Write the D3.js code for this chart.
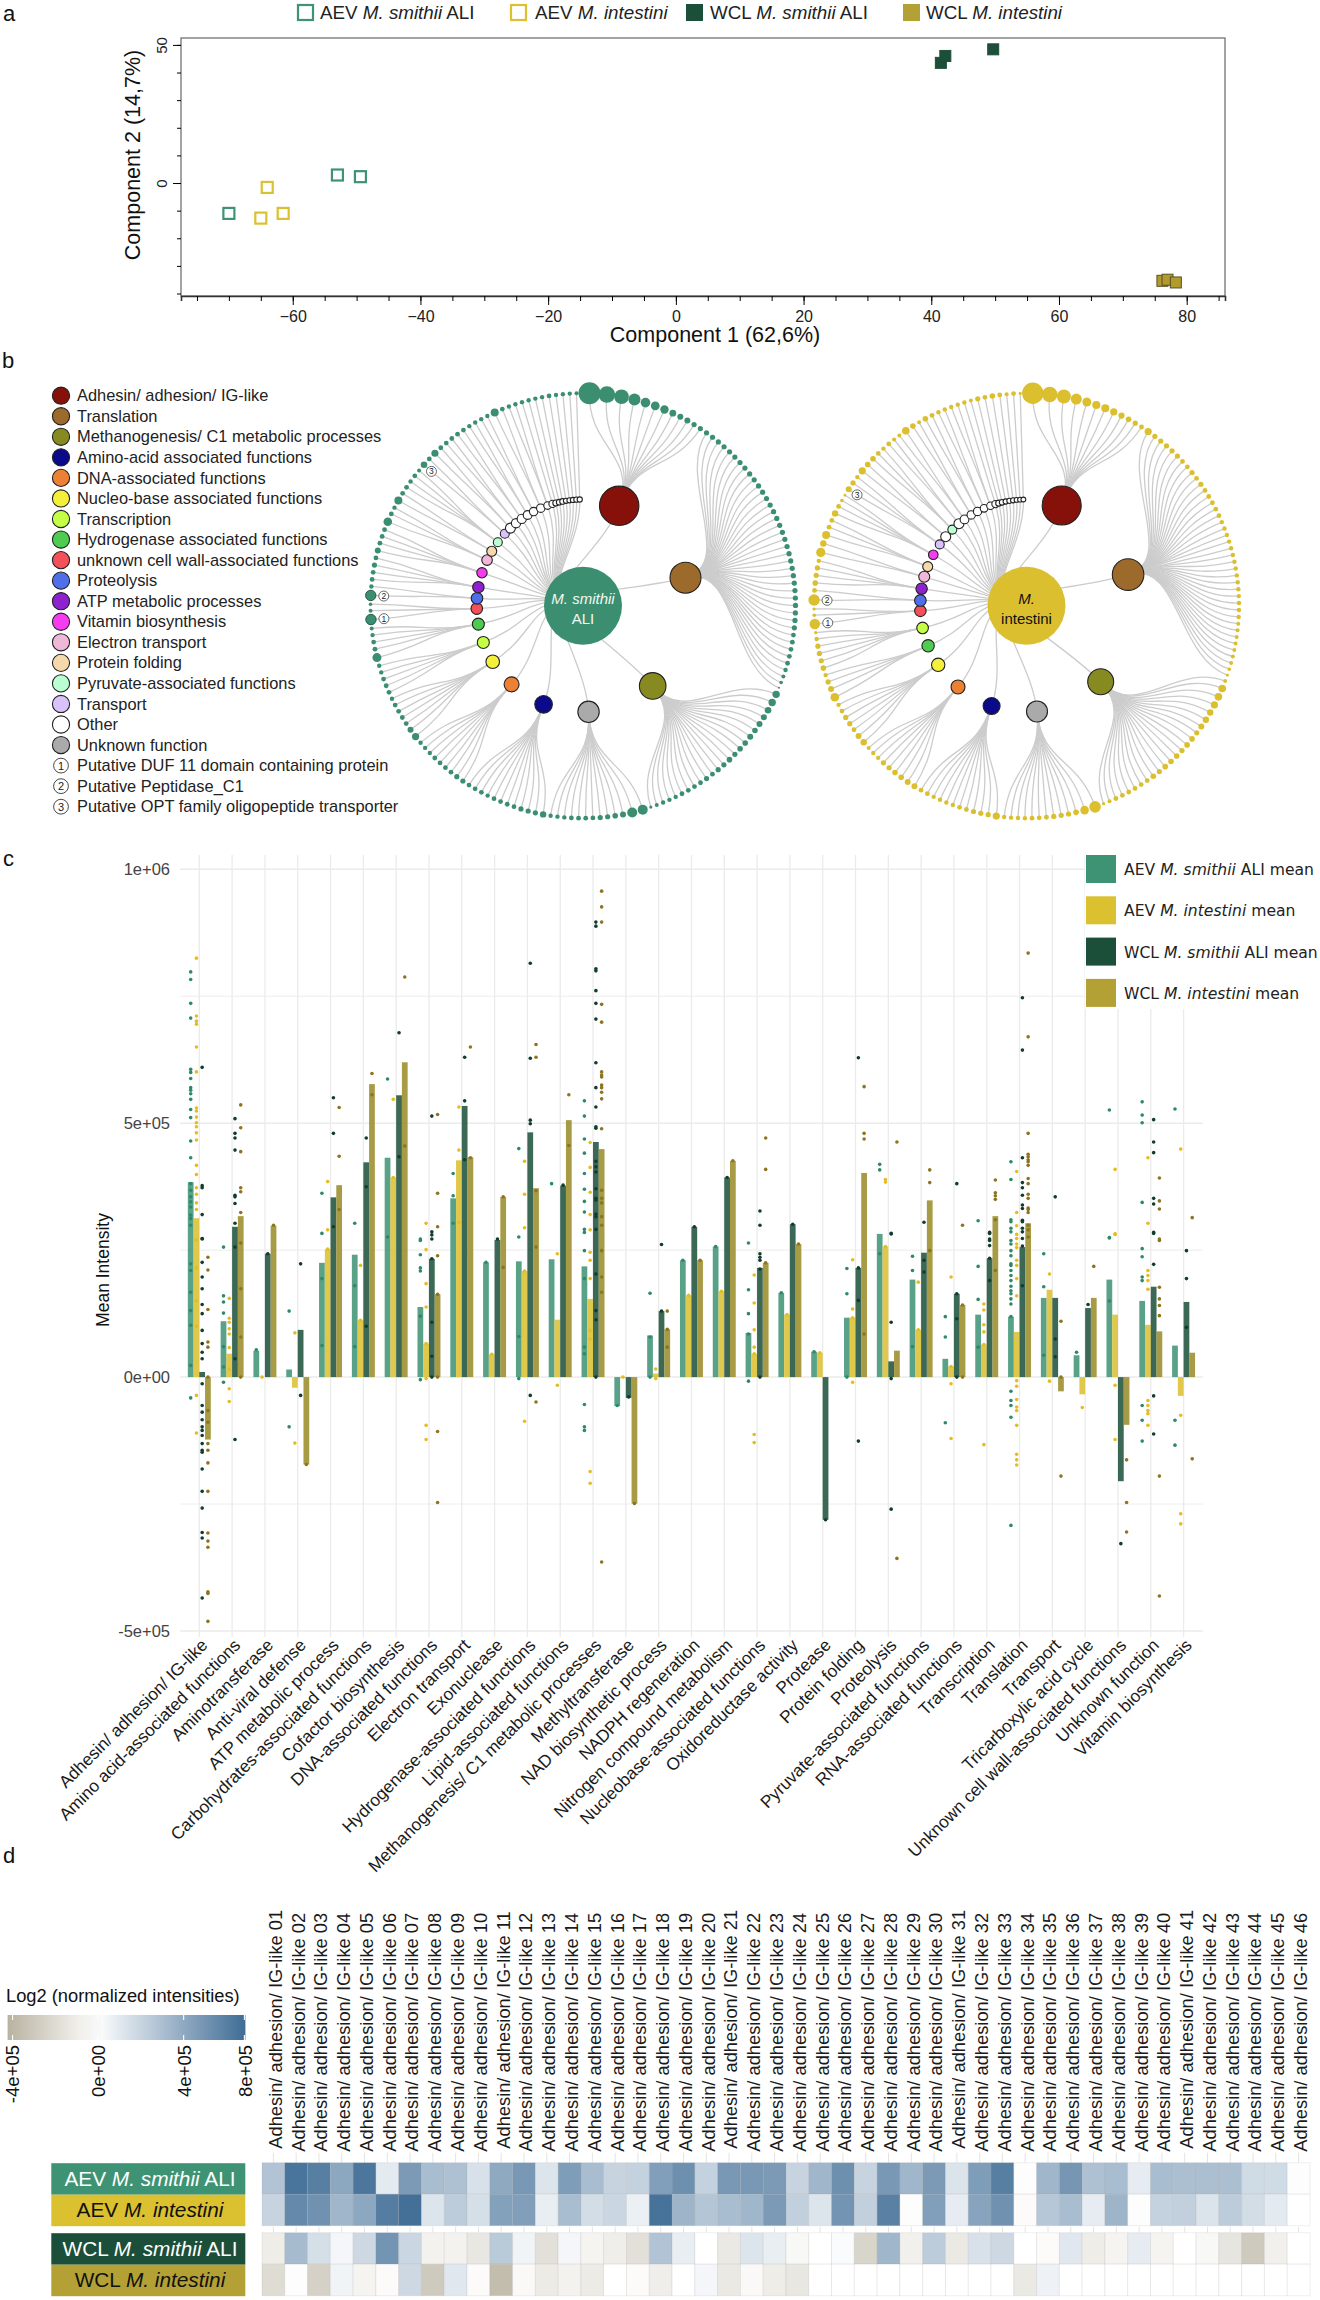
<!DOCTYPE html>
<html>
<head>
<meta charset="utf-8">
<script src="https://cdnjs.cloudflare.com/ajax/libs/d3/7.8.5/d3.min.js"></script>
<style>
body { margin: 0; background: #fff; }
text { font-family: "Liberation Sans", Arial, sans-serif; }
</style>
</head>
<body>
<div id="chart"></div>
<script>
// ---- panel a: PCA scores
var pcaGroups = ["AEV|M. smithii| ALI", "AEV|M. intestini|", "WCL|M. smithii| ALI", "WCL|M. intestini|"];
var pcaAevSmithii = [[-70, -11], [-53, 2.9], [-49.4, 2.3]];
var pcaAevIntestini = [[-64, -1.6], [-65, -12.7], [-61.5, -11]];
var pcaWclSmithii = [[41.5, 43.5], [42.2, 46], [49.7, 48.4]];
var pcaWclIntestini = [[76.2, -35.4], [77, -35], [78.3, -36]];
var pcaXLabels = [-60, -40, -20, 0, 20, 40, 60, 80];
var pcaYLabels = [50, 0];

// ---- panel b: functional trees
var funcNames = ["Adhesin/ adhesion/ IG-like", "Translation", "Methanogenesis/ C1 metabolic processes",
	"Amino-acid associated functions", "DNA-associated functions", "Nucleo-base associated functions",
	"Transcription", "Hydrogenase associated functions", "unknown cell wall-associated functions",
	"Proteolysis", "ATP metabolic processes", "Vitamin biosynthesis", "Electron transport", "Protein folding",
	"Pyruvate-associated functions", "Transport", "Other", "Unknown function"];
var funcColors = ["#86100a", "#9c6a2a", "#868a20", "#0b0a8a", "#ec8035", "#f3ef3a", "#c5ff45", "#4fcb52", "#f4505a",
	"#4f6ee8", "#8f22cf", "#f53cf0", "#f0b8d8", "#f5d9ac", "#baffd2", "#d9c2fb", "#ffffff", "#aaaaaa"];
var putativeNames = ["Putative DUF 11 domain containing protein", "Putative Peptidase_C1", "Putative OPT family oligopeptide transporter"];
var markFuncs = [8, 9, 15];

var smithiiOrder = [0, 1, 2, 17, 3, 4, 5, 6, 7, 8, 9, 10, 11, 12, 13, 14, 15];
var smithiiNodeR = [19.7, 15.5, 13.3, 10.7, 8.8, 7.5, 6.8, 6, 6, 5.8, 5.8, 5.7, 5.2, 5.3, 5, 4.5, 4.5];
var smithiiLeaves = [
	[11, 8.3, 7.3, 6, 4.8, 4.4, 4.2, 3.4, 3, 3, 2.6, 2.6],
	[2.6, 2.6, 2.6, 2.6, 2.6, 2.6, 2.6, 2.6, 2.6, 2.6, 2.6, 2.6, 2.6, 2.6, 2.6, 2.6, 2.6, 2.6, 2.6, 2.6, 2.6, 2.6, 2.6, 2.6, 2.6, 2.6, 2.6, 2.6, 2.6, 2.6, 2.6, 2.4, 2.4, 2.4, 2.4, 2.4, 2.2, 2, 1.8, 1],
	[3.7, 3.7, 3.3, 3, 3, 2.8, 3, 2.8, 2.8, 2.6, 2.8, 2.6, 2.6, 2.4, 2.6, 2.4, 2.4, 2.4, 2.4, 2.2, 2.2, 2.2, 2, 1.6],
	[5, 5, 3, 2.8, 2.6, 2.6, 2.4, 2.4, 2.4, 2.4, 2.2, 2.2, 2.2],
	[3.2, 2.6, 2.6, 2.6, 2.4, 2.4, 2.4, 2.4, 2.2, 2.4, 2.4, 2.4],
	[2.6, 2.6, 2.4, 2.4, 2.4, 2.4, 2.2, 2.2, 2.2],
	[3.6, 3, 2.4, 2.4, 2.4, 2.4, 2.2],
	[2.4, 2.4, 2.4, 2.2, 2.2],
	[4.5, 2.4, 2.4, 2.2, 2],
	[5.2, 2, 1.8],
	[5.2, 2.2],
	[2.4, 2.4, 2.6, 2.4],
	[3, 2.4, 2.4, 2.4],
	[4.3, 2.4, 2.2],
	[4, 2.4],
	[2.4, 2.2, 2.4, 2],
	[3.3, 2.4]
];
var smithiiOtherR = [5, 4.6, 4.6, 4.4, 4.2, 4.2, 3.8, 3.6, 3, 2.8, 2.8, 2.6, 2.6, 2.6, 2.6, 2.6];
var smithiiOtherKids = [2, 2, 2, 2, 2, 2, 2, 1, 1, 1, 1, 1, 1, 1, 1, 1];
var smithiiOtherLeaves = [3.6, 2.4, 2.4, 2.4, 2.4, 2.4, 2.2, 2.2, 2.2, 2.2, 4, 2.4, 2.2, 2.2, 2.2, 2.2, 2.2, 2.2, 2.4, 2.2, 2.2, 2.2, 2];

var intestiniOrder = [0, 1, 2, 17, 3, 4, 5, 7, 6, 8, 9, 10, 12, 13, 11, 15, 16, 14];
var intestiniNodeR = [19.5, 15.8, 13, 10.5, 8.5, 7, 6.7, 6.2, 5.8, 5.7, 5.8, 5.7, 5.5, 5, 4.8, 4.5, 5, 4.5];
var intestiniLeaves = [
	[10.7, 7.8, 7, 5.5, 4.5, 4.1, 4, 3.6, 3.1, 2.8, 2.6, 2.4],
	[3.6, 2.6, 2.6, 2.6, 2.6, 2.6, 2.4, 2.4, 2.6, 2.4, 2.6, 2.4, 2.4, 2.4, 2.4, 2.4, 2.2, 2.2, 2.2, 2.2, 2.2, 2.2, 2.2, 2.2, 2.2, 2.2, 2.2, 2.2, 2.2, 2.2, 2.2, 2, 2, 2, 2, 2, 2, 2, 1.8, 1.6],
	[2, 3.8, 3.8, 3.6, 3.2, 3.2, 3, 2.6, 2.8, 2.8, 2.6, 2.8, 2.8, 2.8, 2.6, 2.8, 2.4, 2.4, 2.4, 2.4, 2.4, 2.4, 2, 1.6],
	[5.8, 4.3, 2.8, 2.6, 2.6, 2.6, 2.4, 2.4, 2.4, 2.2, 2.2, 2.2, 2.2],
	[3.6, 2.6, 2.6, 2.6, 2.4, 2.4, 2.2, 2.2, 2.2, 2.2, 2.4, 2.4],
	[3, 3, 2.8, 2.8, 2.6, 2.6, 2.2, 2.2, 2],
	[3.2, 3, 2.4, 2.6, 2.6, 2.4, 2.2],
	[4.3, 3, 2.6, 2.2],
	[2.8, 2.6, 2.6, 2.6, 2.2, 1.6],
	[5.2, 1.8, 1.6],
	[5.7, 2.4],
	[2.8, 2.6, 2.6, 2.2],
	[4.6, 3.2],
	[4, 2.4, 2.4],
	[3.2, 2.4, 1.8, 1.4],
	[3, 2.6, 2.2],
	[3.6, 2.8],
	[2.8, 2.4, 2.2]
];
var intestiniOtherR = [5, 4.4, 4.2, 4.2, 3.8, 3.8, 3.6, 3, 2.8, 2.6, 2.6, 2.6, 2.4, 2.4, 2.4];
var intestiniOtherKids = [2, 2, 2, 2, 2, 2, 1, 1, 1, 1, 1, 1, 1, 1, 1];
var intestiniOtherLeaves = [2.4, 2, 2, 3.8, 2.8, 2, 2.8, 2.4, 2.2, 2.2, 2.2, 2.2, 2.2, 2, 2.6, 2.4, 2.8, 2.4, 2, 2.4, 1.6];

// ---- panel c: mean intensity per function (values in thousands)
var barCategories = ["Adhesin/ adhesion/ IG-like", "Amino acid-associated functions", "Aminotransferase", "Anti-viral defense",
	"ATP metabolic process", "Carbohydrates-associated functions", "Cofactor biosynthesis", "DNA-associated functions",
	"Electron transport", "Exonuclease", "Hydrogenase-associated functions", "Lipid-associated functions",
	"Methanogenesis/ C1 metabolic processes", "Methyltransferase", "NAD biosynthetic process", "NADPH regeneration",
	"Nitrogen compound metabolism", "Nucleobase-associated functions", "Oxidoreductase activity", "Protease", "Protein folding",
	"Proteolysis", "Pyruvate-associated functions", "RNA-associated functions", "Transcription", "Translation", "Transport",
	"Tricarboxylic acid cycle", "Unknown cell wall-associated functions", "Unknown function", "Vitamin biosynthesis"];
var barSeriesNames = ["AEV|M. smithii| ALI mean", "AEV|M. intestini| mean", "WCL|M. smithii| ALI mean", "WCL|M. intestini| mean"];
var meanAevSmithii = [384, 110, 52, 15, 225, 241, 432, 138, 352, 226, 228, 232, 218, -57, 82, 230, 257, 87, 166, 50, 117, 282, 192, 36, 123, 119, 156, 43, 192, 150, 62];
var meanAevIntestini = [313, 46, 0, -21, 252, 112, 393, 66, 427, 45, 209, 113, 154, -2, 7, 161, 169, 46, 123, 48, 117, 257, 93, 21, 64, 89, 172, -34, 123, 103, -37];
var meanWclSmithii = [10, 296, 243, 93, 354, 423, 555, 233, 534, 270, 482, 377, 463, -41, 130, 296, 393, 215, 301, -281, 215, 31, 245, 164, 234, 256, 156, 136, -205, 178, 148];
var meanWclIntestini = [-123, 317, 298, -172, 378, 577, 620, 163, 433, 355, 372, 506, 449, -249, 94, 230, 426, 225, 262, 0, 402, 52, 348, 142, 317, 303, -28, 156, -94, 90, 48];

var ptsAevSmithii = [
	[798,783,736,707,606,600,588,570,565,558,547,527,511,465,432,381,368,355,345,335,319,312,299,223,210,167,131,102,23,-41],
	[256,160,148,126,60,20,-10], [54], [130,-98], [362,283,194,62], [303,180,60], [587,276], [272,269,241,215,209,120,-5],
	[401,357,303], [226], [450,276,80,-3], [381], [544,514,469,441,401,370,346,325,291,285,249,194,59,46,-54,-98,-105],
	[-56], [165,79,0], [230], [257], [264,172,125,85,-8], [166], [50], [214,164,0], [419,408,243], [238,210,60], [119,79,-90],
	[308,218,153,59], [424,389,310,306,293,286,269,262,249,239,223,220,210,200,190,179,170,164,154,144,119,-28,-46,-56,-79,-292],
	[243,178,43], [49], [526,275,274,150], [542,516,501,344,253,237,197,190,-56,-85,-126], [528,-85,-134]
];
var ptsAevIntestini = [
	[825,711,701,695,650,601,530,524,512,501,493,481,467,417,399,373,360,343,330,270,215,150,100,-36,-110],
	[155,116,108,95,85,58,15,-23,-48], [0], [87,-130], [385,290,252], [220,112], [547,393], [303,251,184,138,66,-3,-95,-123],
	[532,447,305], [45], [425,360,294,209,-87], [243,-16], [462,413,364,320,290,246,230,194,92,75,-186,-209],
	[0], [16,-3], [161], [169], [201,146,93,59,46,-113,-129], [123], [48], [231,134,117,-10], [389,384,257], [187,93],
	[197,21,-13,-121], [144,132,103,89,64,-133], [405,324,298,281,273,262,255,230,220,194,160,-7,-18,-44,-59,-66,-95,-152,-163,-173],
	[203,-8], [-60], [409,282,281,-16,-123], [432,303,210,200,190,173,-46,-56,-66,-72,-95], [449,-75,-269,-289]
];
var ptsWclSmithii = [
	[610,377,373,320,273,272,226,197,174,143,125,92,66,49,36,-13,-56,-69,-84,-98,-105,-115,-131,-144,-148,-181,-225,-258,-306,-317,-435],
	[509,480,471,447,358,355,342,303,256,36,-123], [243], [223,-36], [550,480,296], [471,375,100], [678,434],
	[514,286,280,272,233,108,41,0], [630,544,428], [272], [815,628,506,499,-36], [378],
	[896,888,804,800,761,736,705,619,570,532,493,490,425,414,404,371,352,349,321,316,291,203,131,113,0],
	[-39], [261,130], [296], [393], [327,299,243,236,230,213,0], [301], [-281], [629,215,151,-126], [283,282,108,-3,-260],
	[305,230,207], [381,164,115,0], [285,272,283,269,259,234,190], [747,644,432,383,373,358,339,332,309,306,293,286,273,258,180],
	[355,75,40], [143], [-328], [507,463,442,352,341,285,283,222,-37,-112], [249,194,98]
];
var ptsWclIntestini = [
	[236,211,133,69,59,0,-66,-89,-131,-144,-169,-225,-307,-323,-335,-423,-426,-481],
	[536,491,444,373,365,324,264,174,79,0], [299], [-172], [531,435,330], [598,556], [788,455], [517,362,296,239,163,0,-107,-247],
	[650,432], [355,216], [655,630,367,256,-49], [556,456],
	[957,926,896,734,699,601,595,591,575,570,561,548,489,368,352,343,316,299,249,197,167,-364],
	[-249], [130,94,59], [230], [426], [471,409,225], [262], [], [572,480,469,85], [463,-357], [408,383,249], [299,142,0],
	[388,363,357,350,310,210], [835,670,480,439,434,428,424,417,391,381,360,352,333,330,324,299,290,276],
	[110,0,-195], [218], [-163,-247,-305], [392,347,331,272,269,177,154,141,121,-195,-431], [314,-161]
];
var barTickValues = [1000, 500, 0, -500];
var barTickLabels = ["1e+06", "5e+05", "0e+00", "-5e+05"];

// ---- panel d: adhesin heatmap (values in units of 1e4)
var heatAevSmithii = [28,65,60,41,64,10,47,31,29,14,40,48,12,46,31,20,21,45,52,21,48,48,47,20,34,52,20,48,34,47,13,46,60,-1,34,49,29,31,9,31,30,30,30,17,17,-1];
var heatAevIntestini = [20,55,51,34,41,61,67,12,24,15,44,45,8,31,16,19,7,66,35,27,31,34,47,22,12,50,22,59,-1,45,9,43,51,-2,26,31,9,35,-1,21,22,13,24,16,10,0];
var heatWclSmithii = [-10,32,15,4,18,50,19,-7,-7,-13,25,5,-17,4,-6,-9,-17,28,8,0,-12,12,8,-4,0,2,-23,34,-8,24,-12,14,18,0,-2,11,-10,-6,9,-6,0,-4,-14,-29,-8,0];
var heatWclIntestini = [-19,-1,-25,5,-6,-2,18,-29,11,-2,-36,-3,-11,-7,-11,0,-2,-9,0,4,-12,-3,-10,-13,0,0,0,0,0,0,0,0,0,-12,6,0,0,0,0,0,0,0,0,0,0,0];
var heatRowNames = ["AEV|M. smithii| ALI", "AEV|M. intestini|", "WCL|M. smithii| ALI", "WCL|M. intestini|"];
var heatColumns = d3.range(1, 47).map(function(i){ return "Adhesin/ adhesion/ IG-like " + (i < 10 ? "0" + i : i); });
var heatTickValues = [-40, 0, 40, 80];
var heatTickLabels = ["-4e+05", "0e+00", "4e+05", "8e+05"];

var groupColors = ["#3e9374", "#dbc02f", "#1c4f3a", "#b3a136"];
var groupTextColors = ["#fff", "#111", "#fff", "#111"];

var svg = d3.select("#chart").append("svg")
	.attr("width", 1320)
	.attr("height", 2300);

// writes "plain|italic|plain" as tspans
function richText(sel, str) {
	var parts = str.split("|");
	sel.append("tspan").text(parts[0] + " ");
	sel.append("tspan").attr("font-style", "italic").text(parts[1]);
	if (parts[2]) sel.append("tspan").text(parts[2]);
}

function panelLetter(txt, x, y) {
	svg.append("text").attr("x", x).attr("y", y).attr("font-size", "22px").attr("fill", "#111").text(txt);
}
panelLetter("a", 3, 21);
panelLetter("b", 2, 368);
panelLetter("c", 3, 866);
panelLetter("d", 3, 1863);

// ---------- panel a
var aX = d3.scaleLinear().domain([-77.5, 86]).range([181, 1225]);
var aY = d3.scaleLinear().domain([-40.9, 52.5]).range([296, 38]);

var a = svg.append("g");
a.append("rect").attr("x", 181).attr("y", 38).attr("width", 1044).attr("height", 258)
	.attr("fill", "none").attr("stroke", "#666").attr("stroke-width", 1.2);

a.append("g").attr("transform", "translate(0,296)")
	.call(d3.axisBottom(aX).tickValues(d3.range(-75, 86, 5)).tickSize(5).tickFormat(""))
	.call(function(g){ g.select(".domain").attr("stroke", "#333").attr("stroke-width", 1.6); });
a.append("g").attr("transform", "translate(0,296)")
	.call(d3.axisBottom(aX).tickValues(pcaXLabels).tickSize(9).tickPadding(6))
	.call(function(g){
		g.select(".domain").remove();
		g.selectAll("text").attr("font-size", "16px").attr("font-family", "Liberation Sans").attr("fill", "#222");
	});
a.append("g").attr("transform", "translate(181,0)")
	.call(d3.axisLeft(aY).tickValues(d3.range(-40, 51, 10)).tickSize(4).tickFormat(""))
	.call(function(g){ g.select(".domain").remove(); });
a.append("g").attr("transform", "translate(181,0)")
	.call(d3.axisLeft(aY).tickValues(pcaYLabels).tickSize(8).tickPadding(3))
	.call(function(g){
		g.select(".domain").remove();
		g.selectAll("text").attr("font-size", "15px").attr("font-family", "Liberation Sans").attr("fill", "#222")
			.attr("text-anchor", "middle").attr("dy", 0).attr("x", 0)
			.attr("transform", "translate(-14,0) rotate(-90)");
	});

a.append("text").attr("x", 715).attr("y", 342).attr("text-anchor", "middle").attr("font-size", "21.5px").attr("fill", "#111")
	.text("Component 1 (62,6%)");
a.append("text").attr("transform", "translate(140,155) rotate(-90)").attr("text-anchor", "middle")
	.attr("font-size", "21.5px").attr("fill", "#111").text("Component 2 (14,7%)");

[pcaAevSmithii, pcaAevIntestini, pcaWclSmithii, pcaWclIntestini].forEach(function(pts, i){
	var hollow = i < 2;
	a.selectAll(null).data(pts).enter().append("rect")
		.attr("x", function(d){ return aX(d[0]) - 5.5; })
		.attr("y", function(d){ return aY(d[1]) - 5.5; })
		.attr("width", 11).attr("height", 11)
		.attr("fill", hollow ? "#fff" : groupColors[i] === "#b3a136" ? "#b39a2c" : groupColors[i])
		.attr("stroke", hollow ? groupColors[i] : i === 3 ? "#55502a" : "#1c4f3a")
		.attr("stroke-width", hollow ? 2.2 : 1);
});

var legendXs = [297, 510, 686, 903];
var legendTextXs = [320, 535, 710, 926];
pcaGroups.forEach(function(name, i){
	var hollow = i < 2;
	svg.append("rect").attr("x", legendXs[i] + (hollow ? 1 : 0)).attr("y", 4 + (hollow ? 1 : 0))
		.attr("width", hollow ? 15 : 17).attr("height", hollow ? 15 : 17)
		.attr("fill", hollow ? "#fff" : groupColors[i])
		.attr("stroke", hollow ? groupColors[i] : "none").attr("stroke-width", 2.2);
	svg.append("text").attr("x", legendTextXs[i]).attr("y", 18.5).attr("font-size", "18.8px").attr("fill", "#222")
		.call(richText, name);
});

// ---------- panel b
funcNames.forEach(function(name, i){
	var y = 395.7 + i * 20.55;
	svg.append("circle").attr("cx", 61).attr("cy", y).attr("r", 8.6)
		.attr("fill", funcColors[i]).attr("stroke", "#222").attr("stroke-width", 1.1);
	svg.append("text").attr("x", 77).attr("y", y + 5.6).attr("font-size", "16.4px").attr("fill", "#222").text(name);
});
putativeNames.forEach(function(name, i){
	var y = 395.7 + (i + 18) * 20.55;
	svg.append("circle").attr("cx", 61).attr("cy", y).attr("r", 7.4)
		.attr("fill", "#fff").attr("stroke", "#333").attr("stroke-width", 0.9);
	svg.append("text").attr("x", 61).attr("y", y + 4).attr("text-anchor", "middle").attr("font-size", "11px").attr("fill", "#222").text(i + 1);
	svg.append("text").attr("x", 77).attr("y", y + 5.6).attr("font-size", "16.4px").attr("fill", "#222").text(name);
});

function buildTree(order, nodeR, leaves, otherR, otherKids, otherLeaves) {
	var kids = order.map(function(f, i){
		return { func: f, r: nodeR[i], children: leaves[i].map(function(r){ return { r: r }; }) };
	});
	var next = 0;
	otherR.forEach(function(r, i){
		kids.push({ func: 16, r: r, children: otherLeaves.slice(next, next + otherKids[i]).map(function(v){ return { r: v }; }) });
		next += otherKids[i];
	});
	return { children: kids };
}

function drawTree(data, cx, cy, color, lines, lineColor, markStroke) {
	var radius = 212.5;
	var root = d3.hierarchy(data);
	d3.cluster().size([2 * Math.PI, radius])
		.separation(function(p, q){ return 0.7 * (p.data.r + q.data.r) + 3.75; })(root);

	var g = svg.append("g").attr("transform", "translate(" + cx + "," + cy + ")");
	var point = function(d){ return d3.pointRadial(d.x, d.y); };

	g.selectAll("path").data(root.links()).enter().append("path")
		.attr("d", d3.linkRadial().angle(function(d){ return d.x; }).radius(function(d){ return d.y; }))
		.attr("fill", "none").attr("stroke", "#ccc").attr("stroke-width", 1.3);

	g.selectAll("circle.leaf").data(root.leaves()).enter().append("circle")
		.attr("class", "leaf")
		.attr("cx", function(d){ return point(d)[0]; })
		.attr("cy", function(d){ return point(d)[1]; })
		.attr("r", function(d){ return d.data.r; })
		.attr("fill", color)
		.attr("stroke", function(d){ return d.data.r > 5 && d.x > Math.PI ? markStroke : "none"; })
		.attr("stroke-width", 0.9);

	g.selectAll("circle.func").data(root.children).enter().append("circle")
		.attr("class", "func")
		.attr("cx", function(d){ return point(d)[0]; })
		.attr("cy", function(d){ return point(d)[1]; })
		.attr("r", function(d){ return d.data.r; })
		.attr("fill", function(d){ return funcColors[d.data.func]; })
		.attr("stroke", "#222").attr("stroke-width", 1.1);

	// numbered marks next to the three putative proteins
	markFuncs.forEach(function(f, i){
		var node = root.children.filter(function(d){ return d.data.func === f; })[0];
		var leaf = node.children[0];
		var inset = i === 2 ? 10 : 13;
		var p = d3.pointRadial(leaf.x, radius - inset);
		g.append("circle").attr("cx", p[0]).attr("cy", p[1]).attr("r", 5).attr("fill", "#fff").attr("stroke", "#444").attr("stroke-width", 0.8);
		g.append("text").attr("x", p[0]).attr("y", p[1] + 3).attr("text-anchor", "middle").attr("font-size", "8.5px").attr("fill", "#222").text(i + 1);
	});

	g.append("circle").attr("r", 39).attr("fill", color);
	g.append("text").attr("y", -1.5).attr("text-anchor", "middle").attr("font-size", "15px")
		.attr("font-style", "italic").attr("fill", lineColor).text(lines[0]);
	g.append("text").attr("y", 18).attr("text-anchor", "middle").attr("font-size", "15px")
		.attr("font-style", lines[2] ? "italic" : "normal").attr("fill", lineColor).text(lines[1]);
}

drawTree(buildTree(smithiiOrder, smithiiNodeR, smithiiLeaves, smithiiOtherR, smithiiOtherKids, smithiiOtherLeaves),
	583, 605.7, "#3b8f70", ["M. smithii", "ALI", false], "#f2f7f4", "#1c4f3a");
drawTree(buildTree(intestiniOrder, intestiniNodeR, intestiniLeaves, intestiniOtherR, intestiniOtherKids, intestiniOtherLeaves),
	1026.5, 605.7, "#dbbf2f", ["M.", "intestini", false], "#111", "none");

// ---------- panel c
var cX = d3.scaleBand().domain(barCategories).range([182.9, 1200]).paddingInner(0.3).paddingOuter(0.15);
var cSub = d3.scaleBand().domain(d3.range(4)).range([0, cX.bandwidth()]);
var cY = d3.scaleLinear().domain([-500, 1000]).range([1631, 869.3]);

var c = svg.append("g");
var gridMajor = "#ebebeb";
c.selectAll("line.h").data([1000, 750, 500, 250, 0, -250, -500]).enter().append("line")
	.attr("x1", 180).attr("x2", 1203)
	.attr("y1", function(d){ return cY(d); }).attr("y2", function(d){ return cY(d); })
	.attr("stroke", gridMajor).attr("stroke-width", function(d){ return d % 500 === 0 ? 1.5 : 0.9; });
c.selectAll("line.v").data(barCategories).enter().append("line")
	.attr("x1", function(d){ return cX(d) + cX.bandwidth() / 2; })
	.attr("x2", function(d){ return cX(d) + cX.bandwidth() / 2; })
	.attr("y1", 855).attr("y2", 1637)
	.attr("stroke", gridMajor).attr("stroke-width", 1.3);

var barSeries = [meanAevSmithii, meanAevIntestini, meanWclSmithii, meanWclIntestini];
var pointSeries = [ptsAevSmithii, ptsAevIntestini, ptsWclSmithii, ptsWclIntestini];
var barFills = ["#3e9374", "#dbbf2f", "#1c4f3a", "#9a8a28"];
var dotFills = ["#2c8a69", "#e3bd22", "#123c2d", "#8e7420"];

barSeries.forEach(function(vals, s){
	c.selectAll(null).data(vals).enter().append("rect")
		.attr("x", function(d, i){ return cX(barCategories[i]) + cSub(s); })
		.attr("y", function(d){ return cY(Math.max(d, 0)); })
		.attr("width", cSub.bandwidth())
		.attr("height", function(d){ return Math.abs(cY(d) - cY(0)); })
		.attr("fill", barFills[s]).attr("fill-opacity", 0.86);
});
pointSeries.forEach(function(cats, s){
	cats.forEach(function(vals, i){
		c.selectAll(null).data(vals).enter().append("circle")
			.attr("cx", cX(barCategories[i]) + cSub(s) + cSub.bandwidth() / 2)
			.attr("cy", function(d){ return cY(d); })
			.attr("r", 1.8)
			.attr("fill", dotFills[s]);
	});
});

c.append("g").attr("transform", "translate(0,1637)")
	.call(d3.axisBottom(cX).tickSize(0))
	.call(function(g){
		g.select(".domain").remove();
		g.selectAll("text").attr("font-size", "17.3px").attr("font-family", "Liberation Sans").attr("fill", "#1a1a1a")
			.attr("text-anchor", "end").attr("x", 0).attr("y", 0).attr("dy", "0.35em")
			.attr("transform", "translate(5,5) rotate(-45)");
	});
c.append("g").attr("transform", "translate(173,0)")
	.call(d3.axisLeft(cY).tickValues(barTickValues).tickSize(0).tickPadding(3)
		.tickFormat(function(d, i){ return barTickLabels[i]; }))
	.call(function(g){
		g.select(".domain").remove();
		g.selectAll("text").attr("font-size", "16.5px").attr("font-family", "Liberation Sans").attr("fill", "#444");
	});
c.append("text").attr("transform", "translate(109,1270) rotate(-90)").attr("text-anchor", "middle")
	.attr("font-size", "17.5px").attr("fill", "#111").text("Mean Intensity");

c.append("rect").attr("x", 1085).attr("y", 850).attr("width", 235).attr("height", 159).attr("fill", "#fff");
barSeriesNames.forEach(function(name, i){
	c.append("rect").attr("x", 1086).attr("y", 855 + i * 41.3).attr("width", 30).attr("height", 28).attr("fill", groupColors[i]);
	c.append("text").attr("x", 1124).attr("y", 875 + i * 41.3)
		.attr("font-family", "DejaVu Sans").style("font-family", "DejaVu Sans").attr("font-size", "15.6px").attr("fill", "#222")
		.call(richText, name);
});

// ---------- panel d
var dX = d3.scaleBand().domain(heatColumns).range([262, 1310]);
var dTopY = d3.scaleBand().domain([0, 1]).range([2162.7, 2225.7]);
var dBotY = d3.scaleBand().domain([2, 3]).range([2232.7, 2295.7]);
var rowY = function(i){ return i < 2 ? dTopY(i) : dBotY(i); };
var heatColor = d3.scaleLinear().domain([-41.86, 0, 68.7]).range(["#b8b2a0", "#ffffff", "#3f6c95"]);

svg.append("g").attr("transform", "translate(0,2162.7)")
	.call(d3.axisTop(dX).tickSize(10).tickPadding(2))
	.call(function(g){
		g.select(".domain").remove();
		g.selectAll("line").attr("stroke", "#e4e4e4");
		g.selectAll("text").attr("font-size", "18.3px").attr("font-family", "Liberation Sans").attr("fill", "#1a1a1a")
			.attr("text-anchor", "start").attr("x", 0).attr("y", 0).attr("dy", "0.35em")
			.attr("transform", function(d, i){ return "translate(2," + (i % 10 === 0 ? -14 : -11) + ") rotate(-90)"; });
	});
svg.append("g").attr("transform", "translate(0,2232.7)")
	.call(d3.axisTop(dX).tickSize(6).tickFormat(""))
	.call(function(g){
		g.select(".domain").remove();
		g.selectAll("line").attr("stroke", "#e4e4e4");
	});

[heatAevSmithii, heatAevIntestini, heatWclSmithii, heatWclIntestini].forEach(function(vals, r){
	svg.selectAll(null).data(vals).enter().append("rect")
		.attr("x", function(d, i){ return dX(heatColumns[i]); })
		.attr("y", rowY(r))
		.attr("width", dX.bandwidth())
		.attr("height", dTopY.bandwidth())
		.attr("fill", function(d){ return heatColor(d); })
		.attr("stroke", "#9a9a9a").attr("stroke-opacity", 0.16).attr("stroke-width", 1);

	svg.append("rect").attr("x", 51.3).attr("y", rowY(r) + 0.5).attr("width", 194).attr("height", dTopY.bandwidth())
		.attr("fill", groupColors[r]);
	svg.append("text").attr("x", 150).attr("y", rowY(r) + 23).attr("text-anchor", "middle")
		.attr("font-size", "20.8px").attr("fill", groupTextColors[r])
		.call(richText, heatRowNames[r]);
});

// colour bar
var barScale = d3.scaleLinear().domain([-41.86, 68.7]).range([7.6, 245.4]).clamp(true);
var grad = svg.append("defs").append("linearGradient").attr("id", "heatGrad");
d3.range(0, 1.001, 0.1).forEach(function(t){
	var v = barScale.domain()[0] + t * (barScale.domain()[1] - barScale.domain()[0]);
	grad.append("stop").attr("offset", t).attr("stop-color", heatColor(v));
});
svg.append("text").attr("x", 6).attr("y", 2002).attr("font-size", "18.3px").attr("fill", "#111").text("Log2 (normalized intensities)");
svg.append("rect").attr("x", 7.6).attr("y", 2015).attr("width", 237.8).attr("height", 25).attr("fill", "url(#heatGrad)");
heatTickValues.forEach(function(v){
	var x = barScale(v) + (v === -40 ? 1 : 0) - (v === 80 ? 1 : 0);
	svg.append("line").attr("x1", x).attr("x2", x).attr("y1", 2015).attr("y2", 2020).attr("stroke", "#fff").attr("stroke-width", 1.1);
	svg.append("line").attr("x1", x).attr("x2", x).attr("y1", 2035).attr("y2", 2040).attr("stroke", "#fff").attr("stroke-width", 1.1);
});
svg.append("g").attr("transform", "translate(0,2040)")
	.call(d3.axisBottom(barScale).tickValues(heatTickValues).tickSize(0)
		.tickFormat(function(d, i){ return heatTickLabels[i]; }))
	.call(function(g){
		g.select(".domain").remove();
		g.selectAll("text").attr("font-size", "18.5px").attr("font-family", "Liberation Sans").attr("fill", "#111")
			.attr("text-anchor", "end").attr("x", 0).attr("y", 0).attr("dy", "0.35em")
			.attr("transform", "translate(0,5) rotate(-90)");
	});
</script>
</body>
</html>
